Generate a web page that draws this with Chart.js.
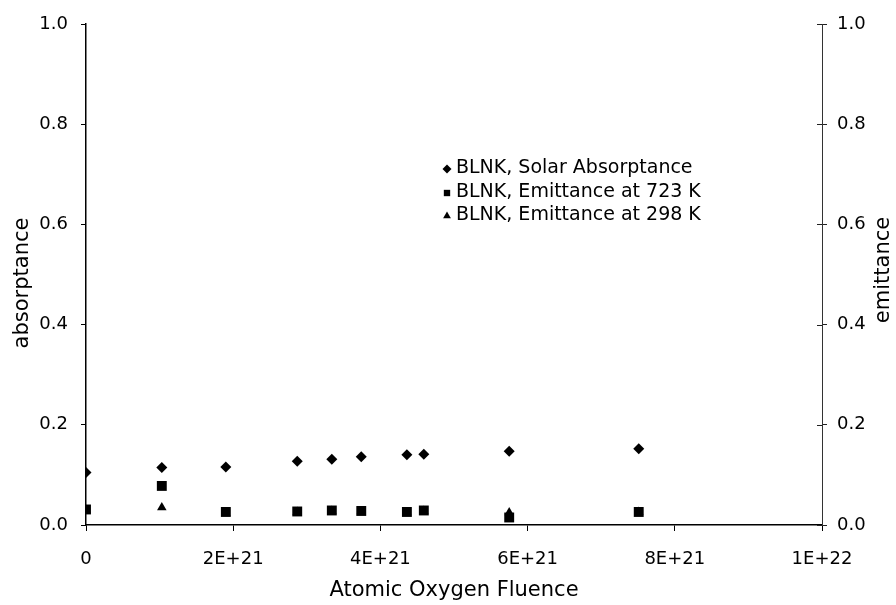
<!DOCTYPE html>
<html>
<head>
<meta charset="utf-8">
<script src="https://cdn.jsdelivr.net/npm/chart.js@4/dist/chart.umd.min.js"></script>
<style>
  html, body { margin: 0; padding: 0; background: #fff; }
  #wrap { width: 896px; height: 605px; }
</style>
</head>
<body>
<div id="wrap"><canvas id="c" width="896" height="605"></canvas></div>
<script>
// Atomic oxygen fluence (atoms/cm^2) for each measurement
const fluence = [0, 1.03e21, 1.9e21, 2.87e21, 3.34e21, 3.74e21, 4.36e21, 4.59e21, 5.75e21, 7.51e21];
// Optical properties of the BLNK sample
const solarAbsorptance = [0.105, 0.115, 0.116, 0.127, 0.131, 0.136, 0.140, 0.141, 0.147, 0.152];
const emittance723 = [0.031, 0.078, 0.026, 0.027, 0.029, 0.028, 0.026, 0.029, 0.015, 0.026];
const emittance298 = [0.030, 0.035, 0.024, 0.026, 0.028, 0.027, 0.025, 0.028, 0.025, 0.026];

const seriesLabels = ['BLNK, Solar Absorptance', 'BLNK, Emittance at 723 K', 'BLNK, Emittance at 298 K'];
const xTickLabels = ['0', '2E+21', '4E+21', '6E+21', '8E+21', '1E+22'];
const yTickLabels = ['0.0', '0.2', '0.4', '0.6', '0.8', '1.0'];

const FONT = '"DejaVu Sans", "Liberation Sans", Arial, sans-serif';

function points(ys) {
  return fluence.map((x, i) => ({ x: x, y: ys[i] }));
}

// Draws a marker in the same shape the library uses for each point style
function marker(ctx, style, x, y, r) {
  ctx.beginPath();
  if (style === 'rectRot') {
    ctx.moveTo(x, y - r); ctx.lineTo(x + r, y); ctx.lineTo(x, y + r); ctx.lineTo(x - r, y);
  } else if (style === 'rect') {
    const s = r * Math.SQRT1_2;
    ctx.rect(x - s, y - s, 2 * s, 2 * s);
  } else {
    const w = r * Math.sqrt(3) / 2;
    ctx.moveTo(x, y - r); ctx.lineTo(x + w, y + r / 2); ctx.lineTo(x - w, y + r / 2);
  }
  ctx.closePath();
  ctx.fill();
}

function verticalTitle(ctx, text, x, y) {
  ctx.save();
  ctx.fillStyle = '#000';
  ctx.font = '21px ' + FONT;
  ctx.textAlign = 'center';
  ctx.textBaseline = 'middle';
  ctx.translate(x, y);
  ctx.rotate(-Math.PI / 2);
  ctx.fillText(text, 0, 0);
  ctx.restore();
}

const extras = {
  id: 'extras',
  afterDraw(chart) {
    const ctx = chart.ctx;
    const y2 = chart.scales.y2;
    ctx.save();
    // inner tick marks on the right-hand axis
    ctx.strokeStyle = '#222';
    ctx.lineWidth = 1;
    y2.ticks.forEach(t => {
      const py = Math.round(y2.getPixelForValue(t.value)) + 0.5;
      ctx.beginPath();
      ctx.moveTo(y2.left, py);
      ctx.lineTo(y2.left - 5, py);
      ctx.stroke();
    });
    ctx.restore();

    // axis titles, both reading upwards
    verticalTitle(ctx, 'absorptance', 23, 283);
    verticalTitle(ctx, 'emittance', 884, 270);

    // legend
    ctx.save();
    ctx.font = '19px ' + FONT;
    ctx.fillStyle = '#000';
    ctx.textAlign = 'left';
    ctx.textBaseline = 'middle';
    const rows = [168, 192, 215];
    chart.data.datasets.forEach((ds, i) => {
      marker(ctx, ds.pointStyle, 447, rows[i] + 1, 4.5);
      ctx.fillText(ds.label, 456, rows[i]);
    });
    ctx.restore();
  }
};

const tickFont = { family: FONT, size: 18 };

new Chart(document.getElementById('c'), {
  type: 'scatter',
  data: {
    datasets: [
      { label: seriesLabels[0], data: points(solarAbsorptance), pointStyle: 'rectRot', pointRadius: 5.5,
        backgroundColor: '#000', borderColor: '#000', borderWidth: 0, yAxisID: 'y' },
      { label: seriesLabels[1], data: points(emittance723), pointStyle: 'rect', pointRadius: 7,
        backgroundColor: '#000', borderColor: '#000', borderWidth: 0, yAxisID: 'y2' },
      { label: seriesLabels[2], data: points(emittance298), pointStyle: 'triangle', pointRadius: 5.5,
        backgroundColor: '#000', borderColor: '#000', borderWidth: 0, yAxisID: 'y2' }
    ]
  },
  options: {
    responsive: false,
    animation: false,
    devicePixelRatio: 1,
    layout: { padding: { top: 24, left: 0, right: 0, bottom: 0 } },
    plugins: { legend: { display: false }, tooltip: { enabled: false } },
    scales: {
      x: {
        type: 'linear', position: 'bottom', min: 0, max: 1e22,
        afterFit: s => { s.height = 80; },
        ticks: { stepSize: 2e21, autoSkip: false, maxRotation: 0, color: '#000', font: tickFont, padding: 18,
                 callback: (v, i) => xTickLabels[i] },
        grid: { drawOnChartArea: false, drawTicks: true, tickLength: 6, color: '#000' },
        border: { color: '#000', width: 1.5 },
        title: { display: true, text: 'Atomic Oxygen Fluence', color: '#000',
                 font: { family: FONT, size: 21 }, padding: { top: 0, bottom: 2 } }
      },
      y: {
        type: 'linear', position: 'left', min: 0, max: 1,
        afterFit: s => { s.width = 86; },
        ticks: { stepSize: 0.2, color: '#000', font: tickFont, padding: 13,
                 callback: (v, i) => yTickLabels[i] },
        grid: { drawOnChartArea: false, drawTicks: true, tickLength: 5, color: '#000' },
        border: { color: '#000', width: 1.5 }
      },
      y2: {
        type: 'linear', position: 'right', min: 0, max: 1,
        afterFit: s => { s.width = 74; },
        ticks: { stepSize: 0.2, color: '#000', font: tickFont, padding: 10,
                 callback: (v, i) => yTickLabels[i] },
        grid: { drawOnChartArea: false, drawTicks: true, tickLength: 5, color: '#222' },
        border: { color: '#333', width: 1 }
      }
    }
  },
  plugins: [extras]
});
</script>
</body>
</html>
